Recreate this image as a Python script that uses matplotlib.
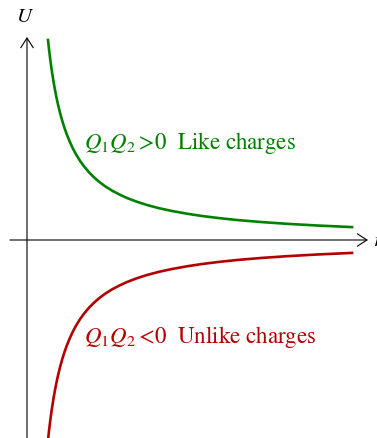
import matplotlib.pyplot as plt

plt.rcParams['font.family'] = ['STIXGeneral', 'DejaVu Serif']
plt.rcParams['mathtext.fontset'] = 'stix'

# distance r and potential energy U
r = [0.21, 0.22, 0.23, 0.24, 0.25, 0.265, 0.28, 0.295, 0.31, 0.33, 0.35,
     0.375, 0.40, 0.43, 0.46, 0.49, 0.53, 0.57, 0.62, 0.67, 0.72, 0.78,
     0.85, 0.92, 1.00, 1.10, 1.20, 1.32, 1.45, 1.60, 1.75, 1.92, 2.10,
     2.35, 2.60, 2.90, 3.25]
u_like = [2.000, 1.909, 1.826, 1.750, 1.680, 1.585, 1.500, 1.424, 1.355, 1.273, 1.200,
          1.120, 1.050, 0.977, 0.913, 0.857, 0.792, 0.737, 0.677, 0.627, 0.583, 0.538,
          0.494, 0.457, 0.420, 0.382, 0.350, 0.318, 0.290, 0.263, 0.240, 0.219, 0.200,
          0.179, 0.162, 0.145, 0.129]
u_unlike = [-v for v in u_like]

green = '#008000'
red = '#b30000'

fig = plt.figure(figsize=(3.77, 4.39), dpi=100)
ax = fig.add_axes([0, 0, 1, 1])
ax.set_xlim(-0.27, 3.50)
ax.set_ylim(-1.98, 2.41)
ax.axis('off')

arrow = dict(arrowstyle='->, head_length=0.7, head_width=0.45', lw=0.8, color='black',
             shrinkA=0, shrinkB=0)
ax.annotate('', xy=(3.41, 0), xytext=(-0.17, 0), arrowprops=arrow)
ax.annotate('', xy=(0, 2.03), xytext=(0, -2.0), arrowprops=arrow)
ax.text(-0.02, 2.24, '$U$', fontsize=15, ha='center', va='center')
ax.text(3.46, 0, '$r$', fontsize=15, ha='left', va='center')

ax.plot(r, u_like, color=green, lw=1.9)
ax.plot(r, u_unlike, color=red, lw=1.9)

ax.text(0.57, 0.98, r'$Q_1Q_2\,\!>\!0$  Like charges', fontsize=16.5, color=green,
        ha='left', va='center')
ax.text(0.57, -0.96, r'$Q_1Q_2\,\!<\!0$  Unlike charges', fontsize=16.5, color=red,
        ha='left', va='center')

fig.savefig('out.png', dpi=100)
